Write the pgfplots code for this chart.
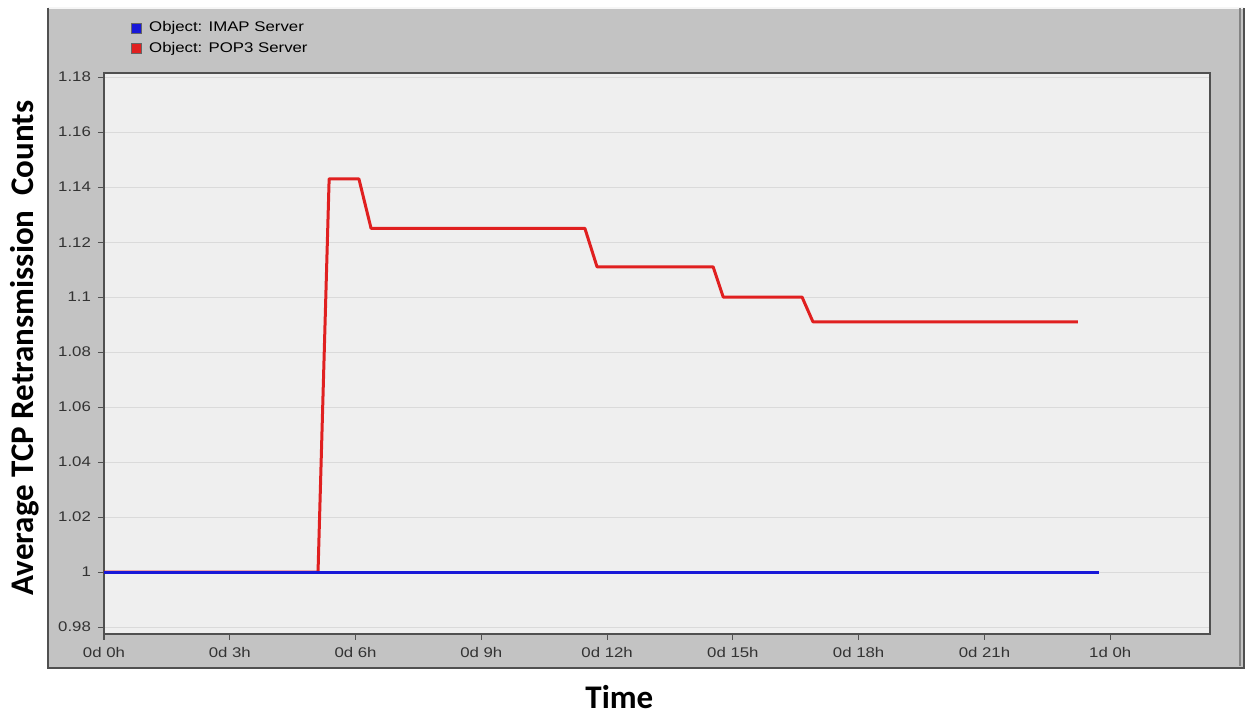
\documentclass[border=0pt]{standalone}
\usepackage{fontspec}
\usepackage{pgfplots}
\pgfplotsset{compat=1.18}
\setmainfont{Liberation Sans}
\newfontfamily\tickfontfam{Liberation Sans}[FakeStretch=1.2]
\newfontfamily\labfontfam{Carlito}
\newcommand\tf{\tickfontfam\fontsize{7pt}{8.4pt}\selectfont}
\newcommand\lf{\labfontfam\bfseries\fontsize{16.5pt}{19pt}\selectfont}
\definecolor{panel}{HTML}{C3C3C3}
\definecolor{plotbg}{HTML}{EFEFEF}
\definecolor{gridc}{HTML}{DADADA}
\definecolor{axc}{HTML}{505050}
\definecolor{redl}{HTML}{E02020}
\definecolor{bluel}{HTML}{1818D8}
\begin{document}
\begin{tikzpicture}
\path[use as bounding box] (-52pt,-40.5pt) rectangle (572pt,317pt);
% gray panel
\fill[panel] (-28pt,-17pt) rectangle (570pt,313pt);
\draw[line width=0.6pt,color=white!85!panel] (-28pt,313pt) -- (570pt,313pt);
\draw[line width=1pt,color=axc] (-28pt,313pt) -- (-28pt,-17pt) -- (570pt,-17pt) -- (570pt,313pt);
\draw[line width=0.6pt,color=axc!70] (568pt,313pt) -- (568pt,-16pt);
\begin{axis}[
  at={(0pt,0pt)}, anchor=south west,
  scale only axis, width=553pt, height=280.5pt,
  xmin=0, xmax=26.38, ymin=0.9775, ymax=1.1815,
  axis background/.style={fill=plotbg},
  axis line style={color=axc, line width=1pt},
  xtick={0,3,6,9,12,15,18,21,24},
  xticklabels={0d 0h,0d 3h,0d 6h,0d 9h,0d 12h,0d 15h,0d 18h,0d 21h,1d 0h},
  ytick={0.98,1,1.02,1.04,1.06,1.08,1.1,1.12,1.14,1.16,1.18},
  yticklabels={0.98,1,1.02,1.04,1.06,1.08,1.1,1.12,1.14,1.16,1.18},
  xtick pos=bottom, ytick pos=left,
  tick align=outside, major tick length=3pt,
  tick style={color=axc, line width=0.6pt},
  ticklabel style={font=\tf, color=black!80},
  /pgf/number format/assume math mode=true,
  ymajorgrids, grid style={color=gridc, line width=0.6pt},
  xlabel={Time}, ylabel={Average TCP Retransmission\ \ Counts},
  label style={font=\lf},
  xlabel style={at={(axis description cs:0.466,-0.112)}, anchor=center},
  ylabel style={at={(axis description cs:-0.0714,0.51)}, anchor=center, rotate=0},
  legend style={at={(axis description cs:0.0244,1.096)}, anchor=north west,
    draw=none, fill=none, font=\tf, row sep=1.8pt, inner sep=0pt,
    nodes={inner sep=1pt}},
  legend cell align=left,
]
\addlegendimage{legend image code/.code={\draw[draw=black!60, fill=bluel, line width=0.4pt] (0pt,-2.5pt) rectangle (5pt,2.5pt); \path (7.5pt,0pt);}}
\addlegendentry{Object: IMAP Server}
\addlegendimage{legend image code/.code={\draw[draw=black!60, fill=redl, line width=0.4pt] (0pt,-2.5pt) rectangle (5pt,2.5pt); \path (7.5pt,0pt);}}
\addlegendentry{Object: POP3 Server}
\addplot[color=redl, line width=1.5pt, line join=round, forget plot] coordinates {
 (0,1) (5.105,1) (5.37,1.143) (6.08,1.143) (6.37,1.125) (11.47,1.125)
 (11.76,1.111) (14.53,1.111) (14.77,1.100) (16.65,1.100) (16.91,1.091) (23.23,1.091)
};
\addplot[color=bluel, line width=1.5pt, forget plot] coordinates {
 (0,1) (23.74,1)
};
\end{axis}
\end{tikzpicture}
\end{document}
